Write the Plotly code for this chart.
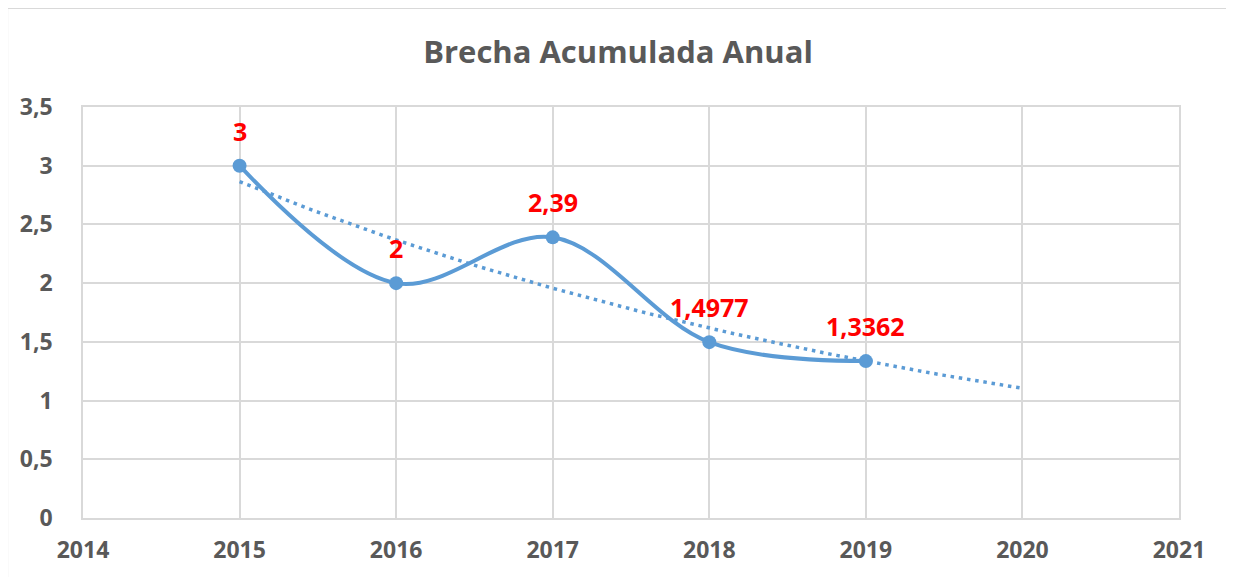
import numpy as np
import plotly.graph_objects as go

years = [2015, 2016, 2017, 2018, 2019]
brecha = [3, 2, 2.39, 1.4977, 1.3362]
labels = [str(v).replace('.', ',') for v in brecha]
y_ticks = [0, 0.5, 1, 1.5, 2, 2.5, 3, 3.5]
x_ticks = [2014, 2015, 2016, 2017, 2018, 2019, 2020, 2021]

# Exponential trendline (least squares fit on log values), forecast one period
xa = np.array(years, dtype=float)
b, a = np.polyfit(xa - years[0], np.log(brecha), 1)
trend_x = np.linspace(years[0], years[-1] + 1, 60)
trend_y = np.exp(a + b * (trend_x - years[0]))

BLUE = "#5B9BD5"
GRAY = "#595959"
GRID = "#D9D9D9"
FONT = "Open Sans"

fig = go.Figure()
fig.add_trace(go.Scatter(x=trend_x, y=trend_y, mode="lines",
                         line=dict(color=BLUE, width=3.5, dash="3.5px,4.8px"),
                         hoverinfo="skip", showlegend=False))
fig.add_trace(go.Scatter(x=years, y=brecha, mode="lines+markers",
                         line=dict(color=BLUE, width=4, shape="spline", smoothing=1),
                         marker=dict(color=BLUE, size=14),
                         showlegend=False))

for xv, yv, t in zip(years, brecha, labels):
    fig.add_annotation(x=xv, y=yv, text=t, showarrow=False, yshift=35,
                       font=dict(family=FONT, size=25, color="#FF0000", weight="bold"))

# page body has an 8px margin: plot area 81..1179 x 107..518 on screen
L, T, R, B = 73, 99, 63, 67
pw, ph = 1234 - L - R, 577 - T - B
fig.add_shape(type="rect", xref="paper", yref="paper",
              x0=(-3 - L) / pw, y0=-0.5, x1=1.3, y1=1 + (T - 0) / ph,
              line=dict(color=GRID, width=2), fillcolor="rgba(0,0,0,0)", layer="below")

fig.update_layout(
    width=1234, height=577,
    margin=dict(l=L, r=R, t=T, b=B),
    paper_bgcolor="white", plot_bgcolor="white",
    separators=",.",
    title=dict(text="<b>Brecha Acumulada Anual</b>", x=(617 - 8 - L) / pw, xanchor="center", xref="paper",
               y=1 - 44 / 577, yanchor="middle",
               font=dict(family=FONT, size=31, color=GRAY)),
    xaxis=dict(range=[2014, 2021], tickvals=x_ticks, ticktext=[str(v) for v in x_ticks],
               showgrid=True, gridcolor=GRID, gridwidth=1.5,
               showline=True, linecolor=GRID, linewidth=1.5, mirror=True,
               zeroline=False, ticks="", ticklabelstandoff=11,
               tickfont=dict(family=FONT, size=23, color=GRAY, weight="bold")),
    yaxis=dict(range=[0, 3.5], tickvals=y_ticks,
               showgrid=True, gridcolor=GRID, gridwidth=1.5,
               showline=True, linecolor=GRID, linewidth=1.5, mirror=True,
               zeroline=False, ticks="", ticklabelstandoff=24,
               tickfont=dict(family=FONT, size=23, color=GRAY, weight="bold")),
)

fig.write_html("out.html")
